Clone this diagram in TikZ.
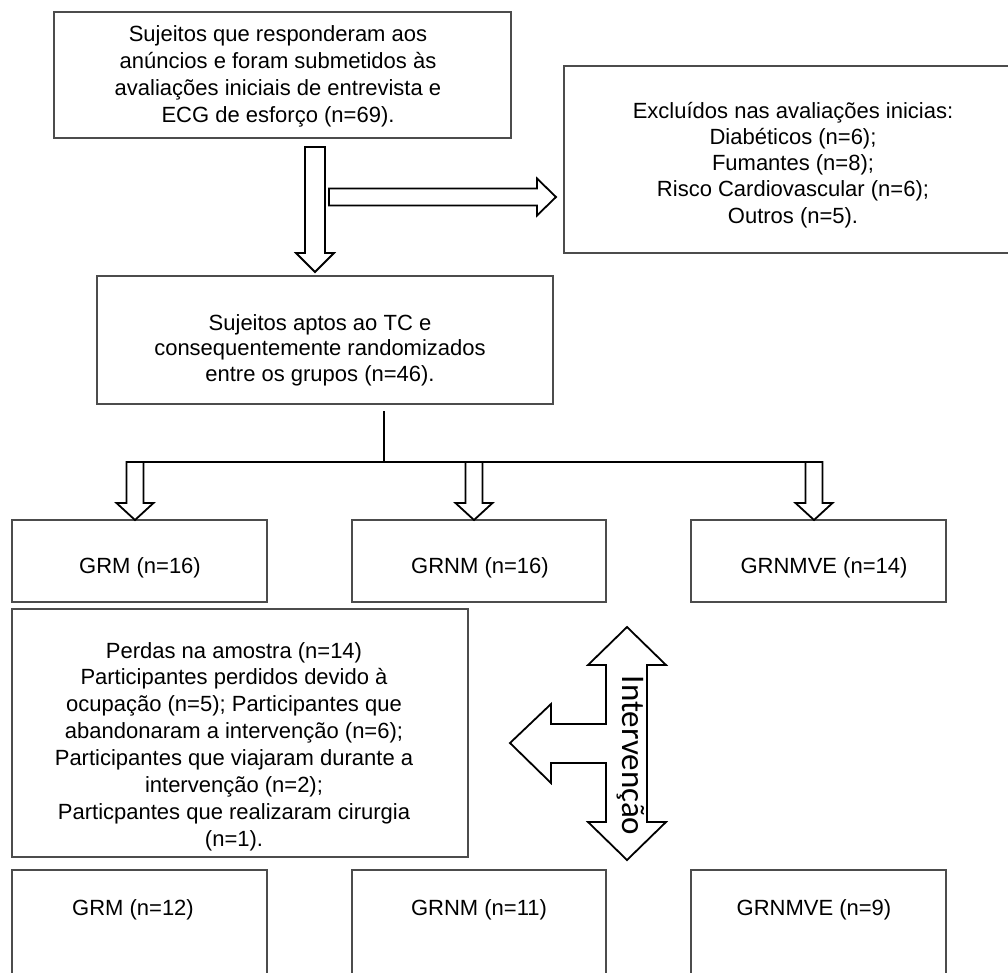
\documentclass[tikz,border=0pt]{standalone}
\usepackage{fontspec}
\setmainfont{Liberation Sans}
\newfontfamily\ivfont{Carlito}
\usetikzlibrary{calc,shadows}
\tikzset{
 box/.style={draw=black!70, line width=1.6pt, fill=white, inner sep=0pt, outer sep=0pt,
   drop shadow={shadow xshift=1.2pt, shadow yshift=-1.4pt, opacity=0.35, fill=black!60}},
 txt/.style={inner sep=0pt, outer sep=0pt, font=\fontsize{22}{26.5}\selectfont, align=center},
 barrow/.style={draw=black, line width=1.8pt, fill=white, line join=miter},
 rulel/.style={draw=black, line width=2.6pt}
}
\newcommand\downblock[5]{\path[barrow] let \p1=(#1), \p2=(#2) in (\x2-#3,\y1) -- (\x2-#3,\y2+#5) -- (\x2-#4,\y2+#5) -- (\x2,\y2) -- (\x2+#4,\y2+#5) -- (\x2+#3,\y2+#5) -- (\x2+#3,\y1) -- cycle;}
\newcommand\rightblock[5]{\path[barrow] let \p1=(#1), \p2=(#2) in (\x1,\y2+#3) -- (\x2-#5,\y2+#3) -- (\x2-#5,\y2+#4) -- (\x2,\y2) -- (\x2-#5,\y2-#4) -- (\x2-#5,\y2-#3) -- (\x1,\y2-#3) -- cycle;}
\begin{document}
\begin{tikzpicture}[x=1pt,y=-1pt]
\useasboundingbox (0,0) rectangle (1008,972);
% boxes
\node[box, minimum width=457pt, minimum height=126pt] (b0) at (282.5,75) {};
\node[box, minimum width=450pt, minimum height=187pt] (b1) at (789,159.5) {};
\node[box, minimum width=456pt, minimum height=128pt] (b2) at (325,340) {};
\node[box, minimum width=255pt, minimum height=82pt] (g1) at (139.5,561) {};
\node[box, minimum width=254pt, minimum height=82pt] (n1) at (479,561) {};
\node[box, minimum width=255pt, minimum height=82pt] (v1) at (818.5,561) {};
\node[box, minimum width=456pt, minimum height=248pt] (pd) at (240,733) {};
\node[box, minimum width=255pt, minimum height=130pt] (g2) at (139.5,935) {};
\node[box, minimum width=254pt, minimum height=130pt] (n2) at (479,935) {};
\node[box, minimum width=255pt, minimum height=130pt] (v2) at (818.5,935) {};
% texts
\node[txt, font=\fontsize{22}{27.3}\selectfont, anchor=north] (t0) at (278,23)
 {\rule{0pt}{18pt}Sujeitos que responderam aos\\anúncios e foram submetidos às\\avaliações iniciais de entrevista e\\ECG de esforço (n=69).};
\node[txt, font=\fontsize{22}{26.3}\selectfont, anchor=north] (t1) at (793,100)
 {\rule{0pt}{18pt}Excluídos nas avaliações inicias:\\Diabéticos (n=6);\\Fumantes (n=8);\\Risco Cardiovascular (n=6);\\Outros (n=5).};
\node[txt, font=\fontsize{22}{25.8}\selectfont, anchor=north] (t2) at (320,312)
 {\rule{0pt}{18pt}Sujeitos aptos ao TC e\\consequentemente randomizados\\entre os grupos (n=46).};
\node[txt, font=\fontsize{22}{26.9}\selectfont, anchor=north] (tp) at (234,640)
 {\rule{0pt}{18pt}Perdas na amostra (n=14)\\Participantes perdidos devido à\\ocupação (n=5); Participantes que\\abandonaram a intervenção (n=6);\\Participantes que viajaram durante a\\intervenção (n=2);\\Particpantes que realizaram cirurgia\\(n=1).};
\node[txt, anchor=base] (tg1) at (140,573) {GRM (n=16)};
\node[txt, anchor=base] (tn1) at (480,573) {GRNM (n=16)};
\node[txt, anchor=base] (tv1) at (824,573) {GRNMVE (n=14)};
\node[txt, anchor=base] (tg2) at (133,915) {GRM (n=12)};
\node[txt, anchor=base] (tn2) at (479,915) {GRNM (n=11)};
\node[txt, anchor=base] (tv2) at (814,915) {GRNMVE (n=9)};
% block arrows top
\coordinate (d0s) at ($(b0.south)+(32.5,9)$);
\coordinate (d0e) at ($(b2.north)+(-10,-4)$);
\downblock{d0s}{d0e}{10pt}{19pt}{19pt}
\coordinate (r0s) at (329,197);
\coordinate (r0e) at ($(b1.west |- r0s)+(-8,0)$);
\rightblock{r0s}{r0e}{8.5pt}{18.5pt}{19pt}
% split
\coordinate (vtop) at ($(b2.south)+(59,7)$);
\coordinate (split) at (384,462);
\coordinate (s1) at (135,462);
\coordinate (s2) at (474,462);
\coordinate (s3) at (814,462);
\coordinate (e1) at ($(g1.north)+(-4.5,0)$);
\coordinate (e2) at ($(n1.north)+(-5,0)$);
\coordinate (e3) at ($(v1.north)+(-4.5,0)$);
\downblock{s1}{e1}{8.5pt}{18.5pt}{17pt}
\downblock{s2}{e2}{8.5pt}{18.5pt}{17pt}
\downblock{s3}{e3}{8.5pt}{18.5pt}{17pt}
\draw[rulel] (vtop) -- (split);
\draw[rulel] ($(s1)+(-8.5,0)$) -- ($(s3)+(8.5,0)$);
% intervencao arrow
\coordinate (iv) at (627,627);
\path[barrow] (iv) -- (666,665) -- (647,665) -- (647,822) -- (666,822) -- (627,860)
 -- (588,822) -- (606,822) -- (606,763) -- (551,763) -- (551,783) -- (510,743)
 -- (551,704) -- (551,724) -- (606,724) -- (606,665) -- (588,665) -- cycle;
\node[rotate=-90, anchor=base, inner sep=0pt, font=\ivfont\fontsize{33}{33}\selectfont] (ivt) at (622,755.5) {Intervenção};
\end{tikzpicture}
\end{document}
